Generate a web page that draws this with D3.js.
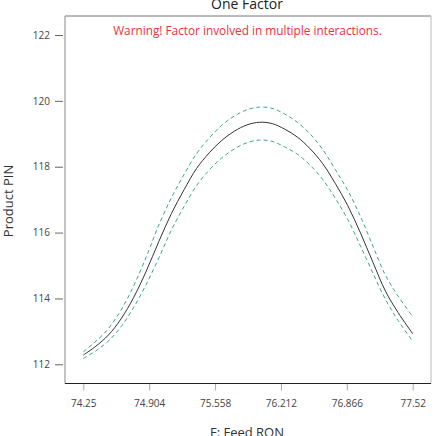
<!DOCTYPE html>
<html><head><meta charset="utf-8">
<script src="https://cdn.jsdelivr.net/npm/d3@7"></script>
<style>body{margin:0;background:#fff;} svg{display:block;}</style>
</head><body>
<script>
const xTicks = [74.25, 74.904, 75.558, 76.212, 76.866, 77.52];
const yTicks = [112, 114, 116, 118, 120, 122];
const feedRON = [74.25, 74.375, 74.5, 74.625, 74.75, 74.875, 75.0, 75.125, 75.25, 75.375, 75.5, 75.625, 75.75, 75.875,
  76.0, 76.125, 76.25, 76.375, 76.5, 76.625, 76.75, 76.875, 77.0, 77.125, 77.25, 77.375, 77.52];
const predicted = [112.28, 112.55, 112.89, 113.38, 114.03, 114.83, 115.73, 116.58, 117.30, 117.95, 118.42, 118.80, 119.08, 119.27,
  119.35, 119.31, 119.14, 118.90, 118.55, 118.10, 117.50, 116.82, 116.00, 115.10, 114.22, 113.57, 112.93];
const upperCI = [112.38, 112.70, 113.09, 113.65, 114.38, 115.26, 116.23, 117.06, 117.76, 118.40, 118.87, 119.26, 119.54, 119.73,
  119.81, 119.77, 119.60, 119.35, 119.00, 118.53, 117.92, 117.28, 116.50, 115.59, 114.70, 114.07, 113.45];
const lowerCI = [112.18, 112.41, 112.71, 113.14, 113.73, 114.43, 115.23, 116.08, 116.79, 117.43, 117.90, 118.27, 118.54, 118.73,
  118.81, 118.77, 118.60, 118.38, 118.05, 117.62, 117.05, 116.40, 115.60, 114.77, 113.97, 113.33, 112.70];

const W = 437, H = 436;
const frame = {l: 65, t: 16, r: 431, b: 383.5};
const svg = d3.select("body").append("svg").attr("width", W).attr("height", H);
const font = "'Open Sans', 'Noto Sans', sans-serif";

const x = d3.scaleLinear().domain([74.25, 77.52]).range([83.3, 412.7]);
const y = d3.scaleLinear().domain([112, 122]).range([364.3, 35]);

// frame
svg.append("line").attr("x1", frame.l).attr("x2", frame.r).attr("y1", frame.t).attr("y2", frame.t).attr("stroke", "#777").attr("stroke-width", 1);
svg.append("line").attr("x1", frame.l).attr("x2", frame.l).attr("y1", frame.t).attr("y2", frame.b).attr("stroke", "#888").attr("stroke-width", 1);
svg.append("line").attr("x1", frame.r).attr("x2", frame.r).attr("y1", frame.t).attr("y2", frame.b).attr("stroke", "#bbb").attr("stroke-width", 1);

// x axis
const xa = svg.append("g").attr("transform", `translate(0,${frame.b})`)
  .call(d3.axisBottom(x).tickValues(xTicks).tickFormat(d => String(d)).tickSize(7).tickPadding(9).tickSizeOuter(0));
xa.select(".domain").remove();
svg.append("line").attr("x1", frame.l).attr("x2", frame.r).attr("y1", frame.b).attr("y2", frame.b).attr("stroke", "#222").attr("stroke-width", 1.2);
xa.selectAll(".tick line").attr("stroke", "#aaa");
xa.selectAll(".tick text").attr("font-family", font).attr("font-size", 10).attr("fill", "#444");

// y axis
const ya = svg.append("g").attr("transform", `translate(${frame.l - 2},0)`)
  .call(d3.axisLeft(y).tickValues(yTicks).tickFormat(d3.format("d")).tickSize(8).tickPadding(5).tickSizeOuter(0));
ya.select(".domain").remove();
ya.selectAll(".tick line").attr("stroke", "#666");
ya.selectAll(".tick text").attr("font-family", font).attr("font-size", 10).attr("fill", "#444");

// lines
const line = (vals) => d3.line().x((d, i) => x(feedRON[i])).y(d => y(d)).curve(d3.curveCatmullRom.alpha(0.5))(vals);
[upperCI, lowerCI].forEach(vals => {
  svg.append("path").attr("d", line(vals)).attr("fill", "none").attr("stroke", "#3aa690").attr("stroke-width", 1).attr("stroke-dasharray", "4,3");
});
svg.append("path").attr("d", line(predicted)).attr("fill", "none").attr("stroke", "#333").attr("stroke-width", 1);

// texts
svg.append("text").attr("x", 247).attr("y", 9).attr("text-anchor", "middle").attr("font-family", font).attr("font-size", 14).attr("fill", "#222").text("One Factor");
svg.append("text").attr("x", 247.5).attr("y", 35).attr("text-anchor", "middle").attr("font-family", font).attr("font-size", 11.8).attr("fill", "#e8323c").text("Warning! Factor involved in multiple interactions.");
svg.append("text").attr("x", 247).attr("y", 437).attr("text-anchor", "middle").attr("font-family", font).attr("font-size", 13).attr("fill", "#333").text("F: Feed RON");
svg.append("text").attr("transform", "translate(13,201) rotate(-90)").attr("text-anchor", "middle").attr("font-family", font).attr("font-size", 13).attr("fill", "#333").text("Product PIN");
</script>
</body></html>
